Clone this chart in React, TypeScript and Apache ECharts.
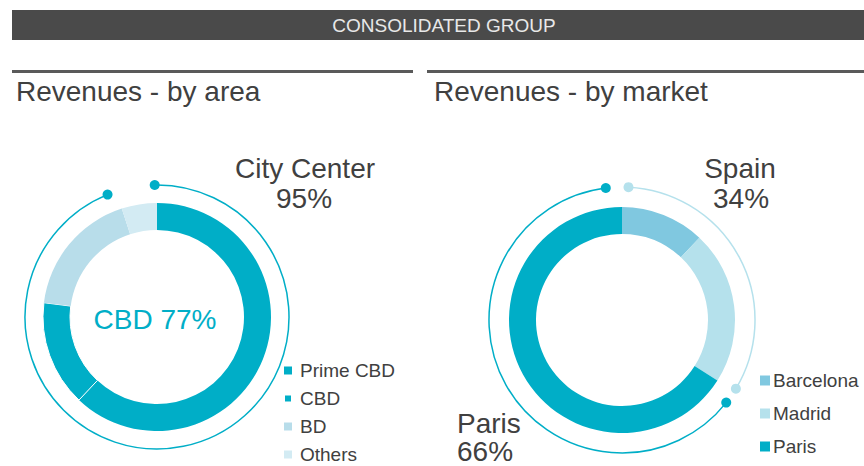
import React, { useEffect, useRef } from "react";
import * as echarts from "echarts";

// ---- data ----
const areaNames = ["Prime CBD", "CBD", "BD", "Others"];
const areaValues = [62, 15, 18, 5];
const marketNames = ["Barcelona", "Madrid", "Paris"];
const marketValues = [12, 22, 66];
const headerTitle = "CONSOLIDATED GROUP";
const leftTitle = "Revenues - by area";
const rightTitle = "Revenues - by market";

// ---- styles ----
const TEAL = "#00AEC7";
const BD_C = "#B8DDEA";
const OTHERS_C = "#D3EBF3";
const BCN_C = "#80C8E0";
const MAD_C = "#B5E1EC";
const FONT = "'Liberation Sans', Arial, sans-serif";
const TXT = "#404040";

const areaColors = [TEAL, TEAL, BD_C, OTHERS_C];
const marketColors = [BCN_C, MAD_C, TEAL];

const L = { cx: 157, cy: 317, r0: 87, r1: 114, arcR: 132 };
const R = { cx: 622, cy: 320, r0: 86, r1: 113, arcR: 133 };

const rad = (deg: number) => ((deg - 90) * Math.PI) / 180;
const pt = (cx: number, cy: number, r: number, deg: number) => [
  cx + r * Math.sin((deg * Math.PI) / 180),
  cy - r * Math.cos((deg * Math.PI) / 180),
];

function arcWithDots(
  cx: number,
  cy: number,
  r: number,
  a0: number,
  a1: number,
  color: string
) {
  const p0 = pt(cx, cy, r, a0);
  const p1 = pt(cx, cy, r, a1);
  return [
    {
      type: "arc",
      silent: true,
      shape: { cx, cy, r, startAngle: rad(a0), endAngle: rad(a1), clockwise: true },
      style: { stroke: color, lineWidth: 1.5, fill: "none" },
    },
    { type: "circle", silent: true, shape: { cx: p0[0], cy: p0[1], r: 5 }, style: { fill: color } },
    { type: "circle", silent: true, shape: { cx: p1[0], cy: p1[1], r: 5 }, style: { fill: color } },
  ];
}

export default function App() {
  const ref = useRef<HTMLDivElement>(null);

  useEffect(() => {
    if (!ref.current) return;
    const chart = echarts.init(ref.current, undefined, { renderer: "svg" });

    const total = (a: number[]) => a.reduce((s, v) => s + v, 0);
    const areaTotal = total(areaValues);
    const cbdPct = Math.round(((areaValues[0] + areaValues[1]) / areaTotal) * 100);
    const cityPct = Math.round(((areaTotal - areaValues[3]) / areaTotal) * 100);
    const mTotal = total(marketValues);
    const spainPct = Math.round(((marketValues[0] + marketValues[1]) / mTotal) * 100);
    const parisPct = Math.round((marketValues[2] / mTotal) * 100);

    const cityEnd = (360 * cityPct) / 100;
    const spainEnd = (360 * spainPct) / 100;

    const title = (text: string, x: number, y: number, extra: any = {}) => ({
      type: "text",
      silent: true,
      x,
      y,
      style: {
        text,
        fill: TXT,
        font: `28px ${FONT}`,
        textAlign: "center",
        textVerticalAlign: "middle",
        ...extra,
      },
    });

    const option: any = {
      animation: false,
      backgroundColor: "#ffffff",
      legend: [
        {
          data: areaNames,
          orient: "vertical",
          left: 283,
          top: 361,
          padding: 0,
          itemWidth: 8,
          itemHeight: 8,
          itemGap: 9,
          icon: "rect",
          selectedMode: false,
          textStyle: { fontSize: 19, color: TXT, fontFamily: FONT, padding: [0, 0, 0, 3] },
        },
        {
          data: marketNames,
          orient: "vertical",
          left: 760,
          top: 371,
          padding: 0,
          itemWidth: 10,
          itemHeight: 10,
          itemGap: 14,
          icon: "rect",
          selectedMode: false,
          textStyle: { fontSize: 19, color: TXT, fontFamily: FONT, padding: [0, 0, 0, -2] },
        },
      ],
      series: [
        {
          type: "pie",
          silent: true,
          center: [L.cx, L.cy],
          radius: [L.r0, L.r1],
          startAngle: 90,
          clockwise: true,
          label: { show: false },
          labelLine: { show: false },
          emphasis: { disabled: true },
          data: areaNames.map((n, i) => ({
            name: n,
            value: areaValues[i],
            itemStyle:
              i === 1
                ? { color: areaColors[i], borderColor: "#ffffff", borderWidth: 1 }
                : { color: areaColors[i] },
          })),
        },
        {
          type: "pie",
          silent: true,
          center: [R.cx, R.cy],
          radius: [R.r0, R.r1],
          startAngle: 90,
          clockwise: true,
          label: { show: false },
          labelLine: { show: false },
          emphasis: { disabled: true },
          data: marketNames.map((n, i) => ({
            name: n,
            value: marketValues[i],
            itemStyle: { color: marketColors[i] },
          })),
        },
      ],
      graphic: [
        {
          type: "rect",
          silent: true,
          shape: { x: 12, y: 10, width: 852, height: 30 },
          style: { fill: "#4A4A4A" },
        },
        {
          type: "text",
          silent: true,
          x: 444,
          y: 25,
          style: {
            text: headerTitle,
            fill: "#E8E8E8",
            font: `19px ${FONT}`,
            textAlign: "center",
            textVerticalAlign: "middle",
          },
        },
        {
          type: "rect",
          silent: true,
          shape: { x: 12, y: 70, width: 401, height: 3 },
          style: { fill: "#5A5A5A" },
        },
        {
          type: "rect",
          silent: true,
          shape: { x: 427, y: 70, width: 437, height: 3 },
          style: { fill: "#5A5A5A" },
        },
        title(leftTitle, 16, 91, { textAlign: "left", font: `28px ${FONT}` }),
        title(rightTitle, 434, 91, { textAlign: "left", font: `28px ${FONT}` }),
        title("City Center", 305, 168),
        title(`${cityPct}%`, 304, 198),
        title(`CBD ${cbdPct}%`, 155, 319, { fill: TEAL }),
        title("Spain", 740, 168),
        title(`${spainPct}%`, 741, 198),
        title(`Paris\n${parisPct}%`, 457, 437.5, { textAlign: "left", lineHeight: 28 }),
        ...arcWithDots(L.cx, L.cy, L.arcR, -1, cityEnd - 4, TEAL),
        ...arcWithDots(R.cx, R.cy, R.arcR, 2.8, spainEnd - 1.3, MAD_C),
        ...arcWithDots(R.cx, R.cy, R.arcR, spainEnd + 6, 353, TEAL),
      ],
    };

    chart.setOption(option);
    return () => chart.dispose();
  }, []);

  return (
    <div
      ref={ref}
      style={{ position: "absolute", left: 0, top: 0, width: 864, height: 466, background: "#fff" }}
    />
  );
}
